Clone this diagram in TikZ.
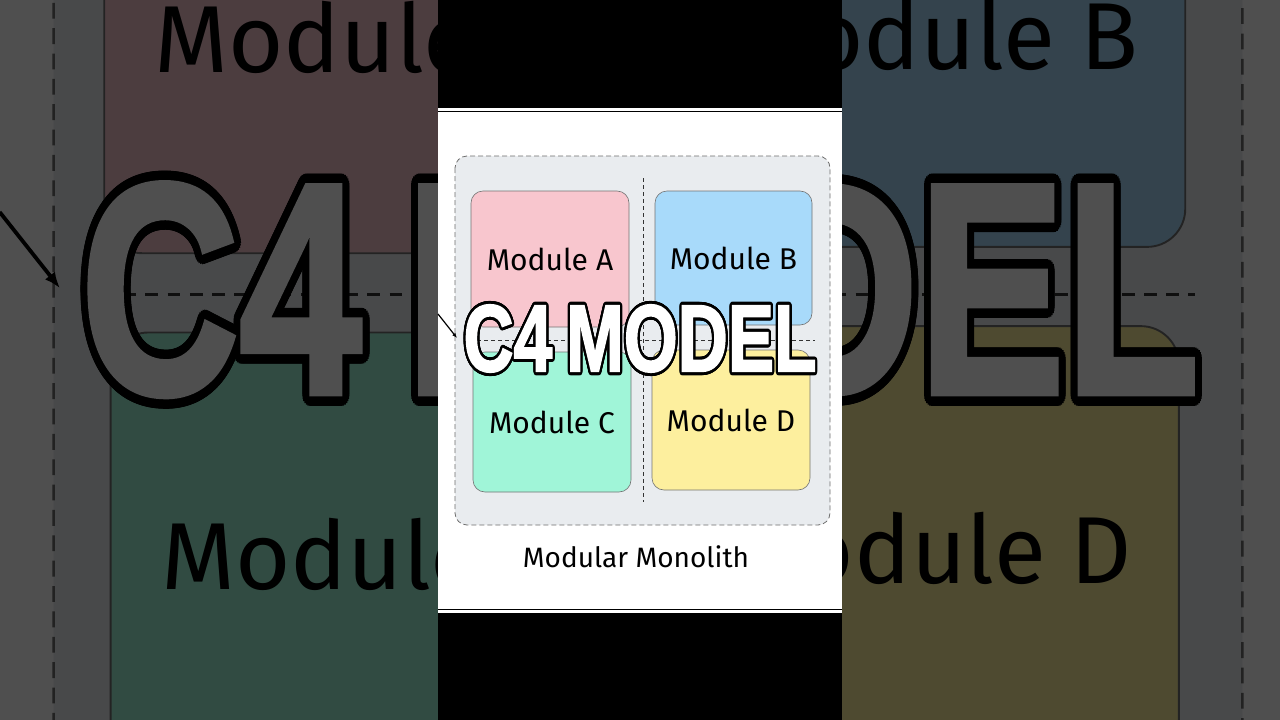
\documentclass[tikz,border=0pt]{standalone}
\usepackage{fontspec}
\usepackage{contour}
\usetikzlibrary{arrows.meta}
\newfontfamily\handfont{Fira Sans}
\newfontfamily\titlefont{Liberation Sans Bold}[FakeBold=2]
\contourlength{3pt}
\contournumber{24}

\definecolor{boxgray}{HTML}{E9ECEF}
\definecolor{dashgray}{HTML}{6E6E6E}
\definecolor{modA}{HTML}{F8C6CE}
\definecolor{modB}{HTML}{A8DAFA}
\definecolor{modC}{HTML}{A0F5D8}
\definecolor{modD}{HTML}{FDEF9E}

\tikzset{
  module/.style={draw=black!55, line width=0.6pt, rounded corners=12pt,
    minimum width=158pt, inner sep=0pt, font=\handfont\fontsize{30}{30}\selectfont},
  divider/.style={draw=black!80, line width=0.8pt, dash pattern=on 4pt off 3pt},
}

% the whole slide, drawn once as backdrop and once in the middle
\newcommand{\monolithpanel}{%
  \fill[white] (438,108) rectangle (842,613);
  \draw[black, line width=1pt] (438,111.5) -- (842,111.5);
  \draw[black, line width=1pt] (438,609) -- (842,609);
  \filldraw[fill=boxgray, draw=dashgray, line width=0.8pt, dash pattern=on 5pt off 3pt,
    rounded corners=12pt] (455,156) rectangle (830,525);
  \draw[divider] (643,178) -- (643,502);
  \draw[divider] (470,340) -- (815,340);
  \node[module, fill=modA, minimum height=136pt] (moda) at (550,259) {Module A};
  \node[module, fill=modB, minimum height=134pt, minimum width=157pt] (modb) at (733.5,258) {Module B};
  \node[module, fill=modC, minimum height=140pt] (modc) at (552,422) {Module C};
  \node[module, fill=modD, minimum height=140pt] (modd) at (731,420) {Module D};
  \node[font=\handfont\fontsize{28}{28}\selectfont] (caption) at (636,557) {Modular Monolith};
  \coordinate (feed) at (438,314);
  \coordinate (edge) at (457,338);
  \draw[-{Latex[length=5pt,width=4pt]}, line width=1.2pt] (feed) -- (edge);
  \node (title) at (640,340)
    {\scalebox{0.73}[1]{\titlefont\fontsize{95}{95}\selectfont
      \contour{black}{\textcolor{white}{C4}}\hspace{0.2em}\contour{black}{\textcolor{white}{MODEL}}}};
}

\begin{document}
\begin{tikzpicture}[x=1pt, y=-1pt]
\useasboundingbox (0,0) rectangle (1280,720);

% dimmed close-up behind
\begin{scope}
  \clip (0,0) rectangle (1280,720);
  \begin{scope}[transform canvas={shift={(640,361)}, scale=3.17, shift={(-640,-361)}}]
    \monolithpanel
  \end{scope}
\end{scope}
\fill[black, opacity=0.69] (0,0) rectangle (1280,720);

% the phone column
\fill[black] (438,0) rectangle (842,720);
\monolithpanel

\end{tikzpicture}
\end{document}
